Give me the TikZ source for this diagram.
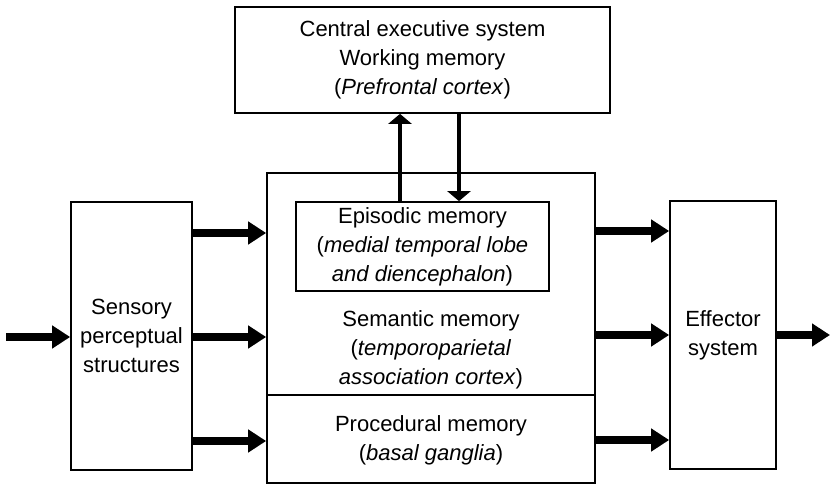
\documentclass[tikz,border=0pt]{standalone}
\usepackage{fontspec}
\setmainfont{Liberation Sans}
\usetikzlibrary{arrows.meta}
\begin{document}
\begin{tikzpicture}[x=1pt,y=-1pt,
  txt/.style={font=\fontsize{22}{29}\selectfont, align=center, inner sep=0pt},
  blk/.style={draw, line width=1.7pt, inner sep=0pt, align=center,
              font=\fontsize{22}{29}\selectfont},
  bigarrow/.style={line width=8.5pt, -{Triangle[length=18pt,width=22pt]}},
  thinarrow/.style={line width=3.2pt, -{Triangle[length=10pt,width=23pt]}}]
  \useasboundingbox (0,0) rectangle (831,486);

  % boxes
  \node[blk, minimum width=375pt, minimum height=106pt] (ces) at (422.5,60)
    {Central executive system\\Working memory\\(\textit{Prefrontal cortex})};
  \node[blk, minimum width=328pt, minimum height=310pt] (mem) at (431,328) {};
  \node[blk, minimum width=253pt, minimum height=89pt] (epi) at (422.5,246.5)
    {Episodic memory\\(\textit{medial temporal lobe}\\\textit{and diencephalon})};
  \node[blk, minimum width=121pt, minimum height=268pt] (sens) at (131.5,336)
    {Sensory\\perceptual\\structures};
  \node[blk, minimum width=106pt, minimum height=268pt] (eff) at (723,335)
    {Effector\\system};

  % contents of the memory block
  \node[txt] (sem) at (431,350)
    {Semantic memory\\(\textit{temporoparietal}\\\textit{association cortex})};
  \node[txt] (proc) at (431,440)
    {Procedural memory\\(\textit{basal ganglia})};
  \draw[line width=1.3pt] (mem.west |- 0,395) -- (mem.east |- 0,395);

  % exchange with the central executive
  \draw[thinarrow] (epi.north -| 400,0) -- (ces.south -| 400,0);
  \draw[thinarrow] (ces.south -| 459,0) -- (epi.north -| 459,0);

  % input and output
  \coordinate (in) at (6,337);
  \coordinate (out) at (830,335);
  \draw[bigarrow] (in) -- (sens.west |- in);
  \draw[bigarrow] (eff.east |- out) -- (out);

  % sensory structures to memory systems
  \foreach \y in {233,337,441}
    \draw[bigarrow] (sens.east |- 0,\y) -- (mem.west |- 0,\y);
  % memory systems to effector
  \foreach \y in {231,335,440}
    \draw[bigarrow] (mem.east |- 0,\y) -- (eff.west |- 0,\y);
\end{tikzpicture}
\end{document}
